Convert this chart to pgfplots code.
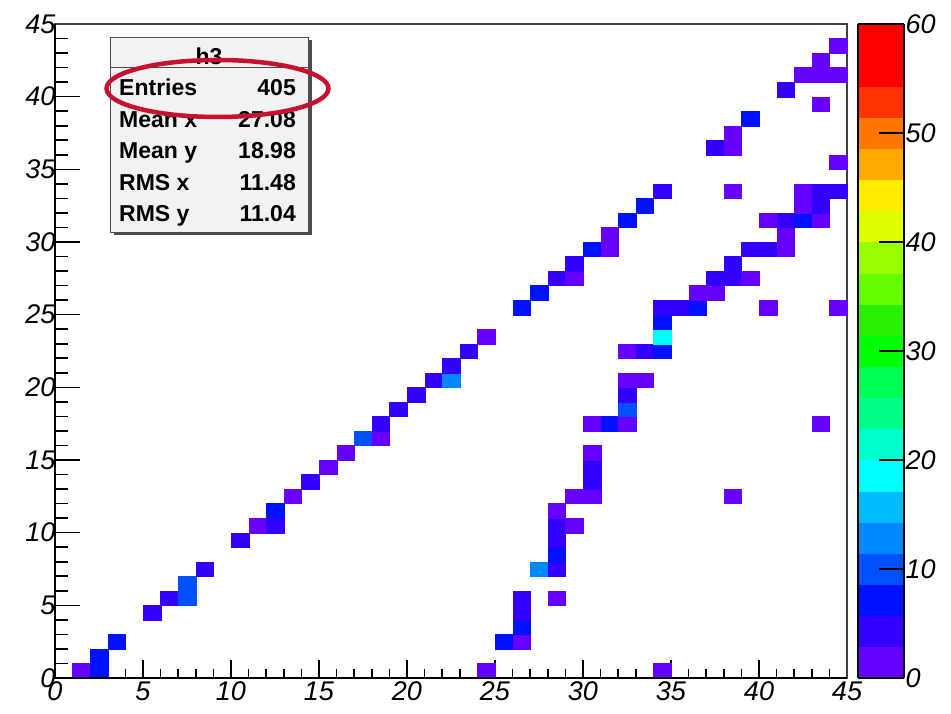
\documentclass[border=0pt]{standalone}
\usepackage{pgfplots}
\pgfplotsset{compat=1.18}
\usepackage{fontspec}
\setmainfont{Liberation Sans}
\definecolor{ellred}{RGB}{198,18,48}
\begin{document}
\begin{tikzpicture}
\useasboundingbox (-55pt,-36pt) rectangle (896pt,678pt);
\begin{axis}[
  scale only axis, width=792pt, height=654pt,
  xmin=0, xmax=45, ymin=0, ymax=45,
  xtick={0,5,...,45}, ytick={0,5,...,45},
  minor x tick num=4, minor y tick num=4,
  tick pos=left, tick align=inside,
  xtick style={line width=1.6pt, black, /pgfplots/major tick length=18pt, /pgfplots/minor tick length=9pt},
  ytick style={line width=1.6pt, black, /pgfplots/major tick length=25pt, /pgfplots/minor tick length=13pt},
  axis line style={line width=1.2pt, black!75},
  /pgf/number format/assume math mode=true,
  ticklabel style={font=\fontsize{27}{27}\selectfont\itshape},
  yticklabel style={xshift=4pt},
  colormap access=piecewise constant,
  colormap={rootpal}{
    rgb255=(102,0,255) rgb255=(51,0,255) rgb255=(0,17,255) rgb255=(0,80,255)
    rgb255=(0,136,255) rgb255=(0,187,255) rgb255=(0,255,255) rgb255=(0,255,204)
    rgb255=(0,255,136) rgb255=(0,255,85) rgb255=(0,255,0) rgb255=(40,240,0)
    rgb255=(102,255,0) rgb255=(153,255,0) rgb255=(221,255,0) rgb255=(255,236,0)
    rgb255=(255,170,0) rgb255=(255,119,0) rgb255=(255,51,0) rgb255=(255,0,0)
    rgb255=(255,0,0)},
  point meta min=0, point meta max=60,
  colorbar,
  colorbar style={
    at={(parent axis.north east)}, anchor=north west, xshift=2.5pt,
    scale only axis, width=46pt, height=654pt,
    xtick=\empty, ytick={0,10,...,60}, minor y tick num=0,
    tick pos=right, tick align=inside,
    major tick length=25pt,
    ytick style={line width=1.4pt, black},
    axis line style={line width=1.2pt, black},
    /pgf/number format/assume math mode=true,
    yticklabel style={font=\fontsize{27}{27}\selectfont\itshape, xshift=-2pt},
  },
  after end axis/.code={
    \draw[line width=2.8pt, black] (rel axis cs:0,1) -- (rel axis cs:0,0) -- (rel axis cs:1,0);
  },
]
\addplot[scatter, only marks, mark=square*, point meta=explicit,
  mark size=8.8pt, mark options={yscale=0.8258, line width=0.2pt},
  scatter/use mapped color={draw=mapped color, fill=mapped color}]
  table[x=x, y=y, meta=c] {
x y c
1.5 0.5 2
2.5 0.5 7
2.5 1.5 7
3.5 2.5 7
5.5 4.5 4
6.5 5.5 4
7.5 5.5 10
7.5 6.5 10
8.5 7.5 4
10.5 9.5 4
11.5 10.5 2
12.5 10.5 4
12.5 11.5 7
13.5 12.5 2
14.5 13.5 4
15.5 14.5 2
16.5 15.5 2
17.5 16.5 10
18.5 16.5 2
18.5 17.5 4
19.5 18.5 4
20.5 19.5 4
21.5 20.5 4
22.5 20.5 13
22.5 21.5 4
23.5 22.5 4
24.5 23.5 2
26.5 25.5 7
27.5 26.5 7
28.5 27.5 4
29.5 27.5 2
29.5 28.5 4
30.5 29.5 7
31.5 29.5 2
31.5 30.5 2
32.5 31.5 7
33.5 32.5 7
34.5 33.5 4
24.5 0.5 2
25.5 2.5 7
26.5 2.5 2
26.5 3.5 7
26.5 4.5 4
26.5 5.5 4
28.5 5.5 2
27.5 7.5 13
28.5 7.5 4
28.5 8.5 7
28.5 9.5 4
28.5 10.5 4
29.5 10.5 2
28.5 11.5 2
29.5 12.5 2
30.5 12.5 2
30.5 13.5 4
30.5 14.5 4
30.5 15.5 2
30.5 17.5 2
31.5 17.5 7
32.5 17.5 2
32.5 18.5 10
32.5 19.5 4
32.5 20.5 2
33.5 20.5 2
32.5 22.5 2
33.5 22.5 4
34.5 22.5 7
34.5 23.5 19
34.5 24.5 7
34.5 25.5 4
35.5 25.5 4
36.5 25.5 7
36.5 26.5 2
37.5 26.5 2
37.5 27.5 4
38.5 27.5 4
39.5 27.5 2
38.5 28.5 4
39.5 29.5 4
40.5 29.5 4
41.5 29.5 2
41.5 30.5 2
40.5 31.5 2
41.5 31.5 4
42.5 31.5 7
43.5 31.5 2
42.5 32.5 2
43.5 32.5 4
42.5 33.5 2
43.5 33.5 4
44.5 33.5 4
44.5 35.5 2
37.5 36.5 4
38.5 36.5 2
38.5 37.5 2
39.5 38.5 7
43.5 39.5 2
41.5 40.5 4
42.5 41.5 2
43.5 41.5 2
44.5 41.5 2
43.5 42.5 2
44.5 43.5 2
34.5 0.5 2
38.5 12.5 2
43.5 17.5 2
40.5 25.5 2
44.5 25.5 2
38.5 33.5 2
};
\end{axis}
% statistics box
\fill[black!70] (58.5pt,442.5pt) rectangle (256.5pt,637.5pt);
\filldraw[fill=black!5, draw=black!70, line width=0.9pt] (55pt,446pt) rectangle (253pt,641pt);
\draw[black!70, line width=0.9pt] (55pt,610.5pt) -- (253pt,610.5pt);
\node[font=\bfseries\fontsize{23}{23}\selectfont, anchor=base] at (154pt,613pt) {h3};
\begin{scope}[every node/.style={font=\bfseries\fontsize{23}{23}\selectfont, inner sep=0pt}]
\node[anchor=base west] at (64pt,582pt) {Entries};
\node[anchor=base east] at (241pt,582pt) {405};
\node[anchor=base west] at (64pt,550.5pt) {Mean x};
\node[anchor=base east] at (241pt,550.5pt) {27.08};
\node[anchor=base west] at (64pt,519pt) {Mean y};
\node[anchor=base east] at (241pt,519pt) {18.98};
\node[anchor=base west] at (64pt,487.5pt) {RMS x};
\node[anchor=base east] at (241pt,487.5pt) {11.48};
\node[anchor=base west] at (64pt,456pt) {RMS y};
\node[anchor=base east] at (241pt,456pt) {11.04};
\end{scope}
\draw[ellred, line width=4.5pt] (162.5pt,589.5pt) ellipse [x radius=111pt, y radius=28.5pt];
\end{tikzpicture}
\end{document}
